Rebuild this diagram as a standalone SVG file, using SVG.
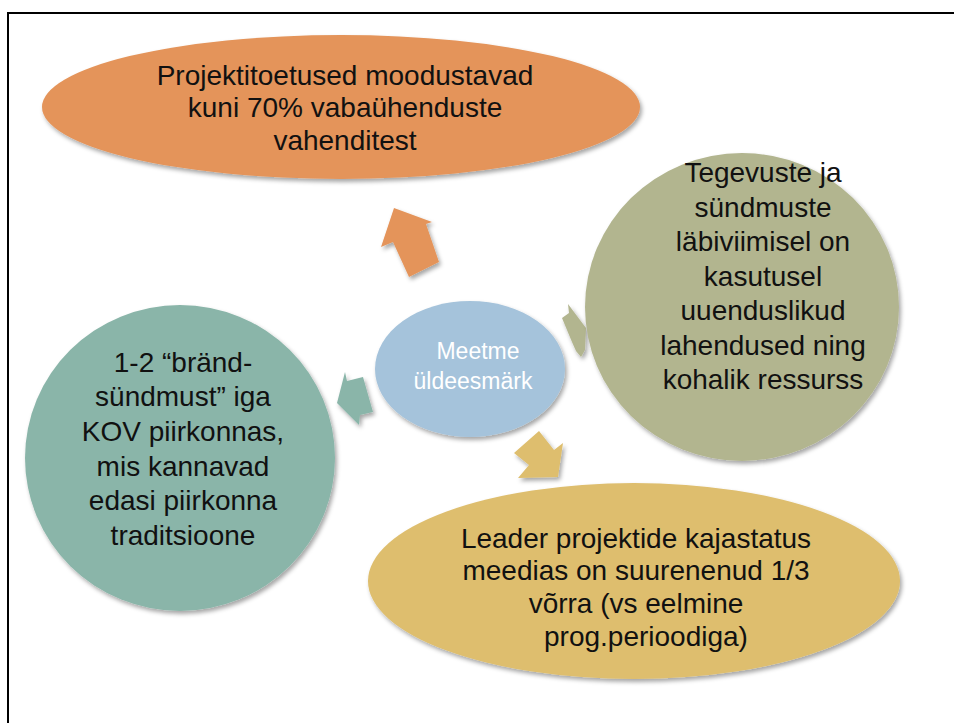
<svg xmlns="http://www.w3.org/2000/svg" width="954" height="723" viewBox="0 0 954 723">
<defs>
<filter id="sh" x="-10%" y="-10%" width="125%" height="125%">
<feGaussianBlur in="SourceAlpha" stdDeviation="2"/>
<feOffset dx="2" dy="3" result="b"/>
<feFlood flood-color="#000" flood-opacity="0.35"/>
<feComposite in2="b" operator="in"/>
<feMerge><feMergeNode/><feMergeNode in="SourceGraphic"/></feMerge>
</filter>
<style>
.t{font-family:"Liberation Sans",Arial,sans-serif;font-size:28px;fill:#111;text-anchor:middle}
.w{font-family:"Liberation Sans",Arial,sans-serif;font-size:23px;fill:#fff;text-anchor:middle}
</style>
</defs>
<rect width="954" height="723" fill="#fff"/>
<path d="M8 723 V13 H954" fill="none" stroke="#000" stroke-width="2"/>
<g id="connectors" filter="url(#sh)">
<polygon points="394,208 432,222 426,224 439,262 409,277 393,242 381,247" fill="#E4945A"/>
<polygon points="568,304 569,313 562,318 572,342 576,351 581,357 585,350 586,328" fill="#B2B58F"/>
<polygon points="345,372 347,381 363,377 373,412 360,415 359,425 337,403" fill="#8AB5A9"/>
<polygon points="539,431 554,450 563,443 558,477 518,478 529,465 514,453" fill="#DEBE6E"/>
</g>
<g id="top">
<ellipse cx="341" cy="107" rx="299" ry="72" fill="#E4945A" filter="url(#sh)"/>
<text class="t" x="345" y="85">Projektitoetused moodustavad</text>
<text class="t" x="345" y="117">kuni 70% vabaühenduste</text>
<text class="t" x="345" y="150">vahenditest</text>
</g>
<g id="right">
<ellipse cx="742" cy="307" rx="157" ry="154" fill="#B2B58F" filter="url(#sh)"/>
<text class="t" x="763" y="182">Tegevuste ja</text>
<text class="t" x="763" y="217">sündmuste</text>
<text class="t" x="763" y="251">läbiviimisel on</text>
<text class="t" x="763" y="286">kasutusel</text>
<text class="t" x="763" y="320">uuenduslikud</text>
<text class="t" x="763" y="355">lahendused ning</text>
<text class="t" x="763" y="389">kohalik ressurss</text>
</g>
<g id="left">
<ellipse cx="180" cy="458" rx="155" ry="153" fill="#8AB5A9" filter="url(#sh)"/>
<text class="t" x="183" y="372">1-2 “bränd-</text>
<text class="t" x="183" y="406">sündmust” iga</text>
<text class="t" x="183" y="441">KOV piirkonnas,</text>
<text class="t" x="183" y="476">mis kannavad</text>
<text class="t" x="183" y="510">edasi piirkonna</text>
<text class="t" x="183" y="545">traditsioone</text>
</g>
<g id="bottom">
<ellipse cx="634" cy="581" rx="266" ry="98" fill="#DEBE6E" filter="url(#sh)"/>
<text class="t" x="636" y="548">Leader projektide kajastatus</text>
<text class="t" x="636" y="580">meedias on suurenenud 1/3</text>
<text class="t" x="636" y="613">võrra (vs eelmine</text>
<text class="t" x="646" y="646">prog.perioodiga)</text>
</g>
<g id="center">
<ellipse cx="470" cy="369" rx="95" ry="68" fill="#A5C3DB" filter="url(#sh)"/>
<text class="w" x="478" y="359">Meetme</text>
<text class="w" x="473" y="389">üldeesmärk</text>
</g>
</svg>
